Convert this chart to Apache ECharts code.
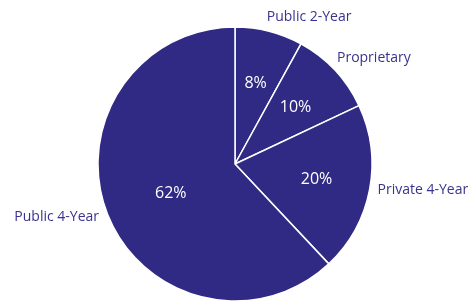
<!DOCTYPE html>
<html><head><meta charset="utf-8">
<script src="https://cdn.jsdelivr.net/npm/echarts@6/dist/echarts.min.js"></script>
<style>html,body{margin:0;padding:0;background:#fff}#c{width:471px;height:301px}</style>
</head><body><div id="c"></div>
<script>
const categories = ['Public 2-Year', 'Proprietary', 'Private 4-Year', 'Public 4-Year'];
const shares = [8, 10, 20, 62];

// label styling (not data)
const outerLabelStyle = {
  'Public 2-Year': {length: 15, distance: -6},
  'Proprietary': {length: 18, distance: -11},
  'Private 4-Year': {length: 2, distance: 6},
  'Public 4-Year': {length: 6, distance: 3}
};
const innerOffset = {'Public 4-Year': [13, -1]};

const fill = '#312a84';
const font = '"Open Sans", sans-serif';

const mainData = categories.map((c, i) => ({
  name: c, value: shares[i],
  label: {distanceToLabelLine: outerLabelStyle[c].distance},
  labelLine: {length: outerLabelStyle[c].length, length2: 0, show: false}
}));
const innerData = categories.map((c, i) => ({
  name: c, value: shares[i],
  label: innerOffset[c] ? {offset: innerOffset[c]} : {}
}));

const chart = echarts.init(document.getElementById('c'), null, {renderer: 'canvas'});
chart.setOption({
  animation: false,
  series: [{
    type: 'pie', center: [235, 164], radius: [0, 137], startAngle: 90, clockwise: true,
    avoidLabelOverlap: false,
    itemStyle: {color: fill, borderColor: '#fff', borderWidth: 1.5},
    label: {show: true, position: 'outside', formatter: '{b}', color: '#3a3290', fontFamily: font, fontSize: 14},
    labelLine: {show: false},
    emphasis: {disabled: true},
    data: mainData
  }, {
    type: 'pie', center: [235, 164], radius: [0, 160], startAngle: 90, clockwise: true,
    silent: true, avoidLabelOverlap: false,
    itemStyle: {color: 'rgba(0,0,0,0)', borderWidth: 0},
    label: {show: true, position: 'inside', formatter: '{c}%', color: '#fff', fontFamily: font, fontSize: 16},
    labelLine: {show: false},
    emphasis: {disabled: true},
    data: innerData
  }]
});
</script></body></html>
